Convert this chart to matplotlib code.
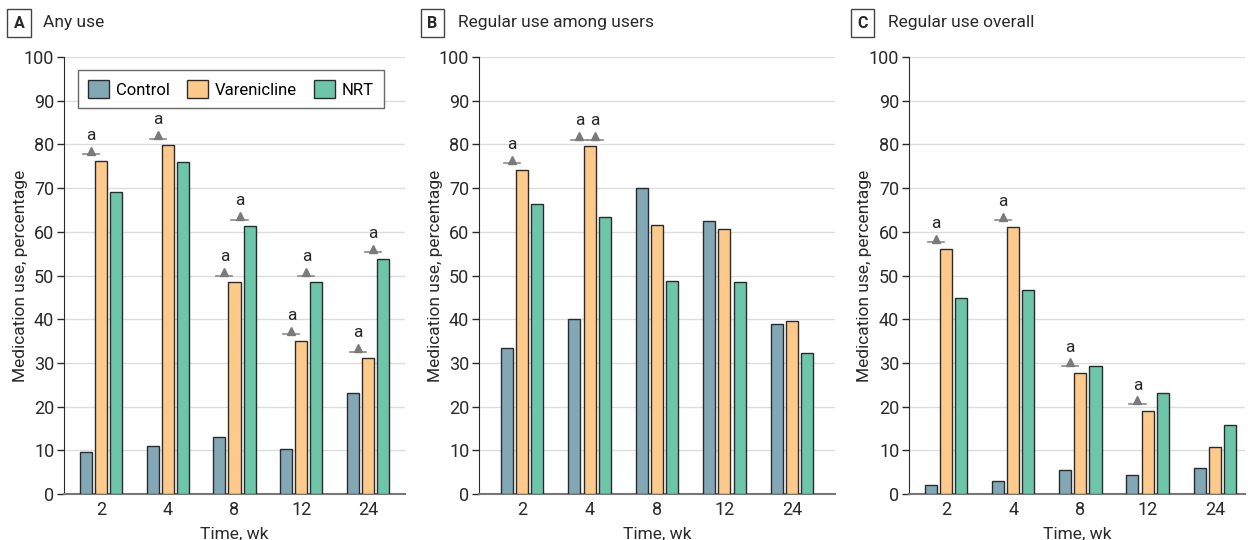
import matplotlib
matplotlib.use('Agg')
import matplotlib.pyplot as plt
import numpy as np

plt.rcParams['font.family'] = ['Roboto', 'DejaVu Sans']

weeks = ['2', '4', '8', '12', '24']
series = ['Control', 'Varenicline', 'NRT']
colors = ['#82a8b6', '#fdca8b', '#6dc6a9']

titles = ['Any use', 'Regular use among users', 'Regular use overall']
letters = ['A', 'B', 'C']

any_control = [9.5, 11.0, 13.0, 10.2, 23.0]
any_varen = [76.2, 79.8, 48.5, 35.0, 31.1]
any_nrt = [69.0, 76.0, 61.3, 48.5, 53.8]

users_control = [33.3, 40.0, 70.0, 62.5, 38.9]
users_varen = [74.2, 79.6, 61.5, 60.7, 39.7]
users_nrt = [66.3, 63.3, 48.7, 48.4, 32.2]

overall_control = [2.1, 3.0, 5.6, 4.3, 5.9]
overall_varen = [56.1, 61.2, 27.8, 19.1, 10.7]
overall_nrt = [44.8, 46.6, 29.4, 23.1, 15.7]

# significance flags ("a") per series
any_sig = [[0, 0, 0, 0, 0], [1, 1, 1, 1, 1], [0, 0, 1, 1, 1]]
users_sig = [[0, 0, 0, 0, 0], [1, 1, 0, 0, 0], [0, 1, 0, 0, 0]]
overall_sig = [[0, 0, 0, 0, 0], [1, 1, 1, 1, 0], [0, 0, 0, 0, 0]]

panels = [
    ([any_control, any_varen, any_nrt], any_sig),
    ([users_control, users_varen, users_nrt], users_sig),
    ([overall_control, overall_varen, overall_nrt], overall_sig),
]

W, H = 1248, 540
fig = plt.figure(figsize=(W / 100, H / 100), dpi=100)

# axes boxes in pixels: left, right, and x-limits
boxes = [(64, 405, -0.55, 4.55), (479, 835, -0.64, 4.64), (909, 1245, -0.55, 4.45)]
top, bottom = 57, 494
title_pos = [(11, 43), (425, 458), (855, 888)]

bw = 0.18
step = 0.225
x = np.arange(len(weeks))
dark = '#2a2a2a'

for i, ((vals, sig), (l, r, x0, x1)) in enumerate(zip(panels, boxes)):
    ax = fig.add_axes([l / W, 1 - bottom / H, (r - l) / W, (bottom - top) / H])
    for k in range(3):
        xs = x + (k - 1) * step
        ax.bar(xs, vals[k], width=bw, color=colors[k], edgecolor='#2b2b2b',
               linewidth=1.0, label=series[k], zorder=3)
        for j in range(len(weeks)):
            if sig[k][j]:
                mx = xs[j] - 0.15
                my = max(vals[1][j], vals[k][j]) + 1.5
                ax.plot([mx - 0.12, mx + 0.12], [my, my], color='#8a8a8a', lw=1.2, zorder=4)
                ax.plot(mx, my + 0.8, marker='^', color='#7a7a7a', ms=6, zorder=4)
                ax.text(mx, my + 2.6, 'a', ha='center', va='bottom', fontsize=12.5, color=dark)
    ax.set_xlim(x0, x1)
    ax.set_ylim(0, 100)
    ax.set_yticks(range(0, 101, 10))
    ax.set_xticks(x)
    ax.set_xticklabels(weeks)
    ax.yaxis.grid(True, color='#dddddd', lw=1.0, zorder=0)
    ax.set_axisbelow(True)
    for s in ['top', 'right']:
        ax.spines[s].set_visible(False)
    ax.spines['left'].set_color(dark)
    ax.spines['bottom'].set_color('#777777')
    ax.spines['bottom'].set_linewidth(1.5)
    ax.tick_params(axis='y', length=5, width=1, color=dark, labelsize=13, labelcolor=dark, pad=2)
    ax.tick_params(axis='x', length=0, labelsize=13, labelcolor=dark, pad=5)
    ax.set_ylabel('Medication use, percentage', fontsize=12.5, color=dark)
    ax.yaxis.set_label_coords(-44 / (r - l), 0.5)
    ax.yaxis.label.set_va('center')
    ax.set_xlabel('Time, wk', fontsize=12.5, color=dark, labelpad=6)

    bx, tx = title_pos[i]
    fig.text(bx / W + 0.002, 1 - 23 / H, letters[i], fontsize=11.5, fontweight='bold',
             ha='left', va='center', color=dark,
             bbox=dict(boxstyle='square,pad=0.4', fc='white', ec='#444444', lw=1.0))
    fig.text(tx / W, 1 - 23 / H, titles[i], fontsize=12.5, ha='left', va='center', color=dark)

    if i == 0:
        leg = ax.legend(loc='upper left', bbox_to_anchor=(0.04, 0.97), ncol=3, fontsize=12,
                        frameon=True, fancybox=False, edgecolor='#444444', borderpad=0.6,
                        borderaxespad=0, handlelength=1.3, handleheight=1.3,
                        columnspacing=1.0, handletextpad=0.4)
        leg.get_frame().set_linewidth(1.0)

fig.savefig('out.png', dpi=100)
